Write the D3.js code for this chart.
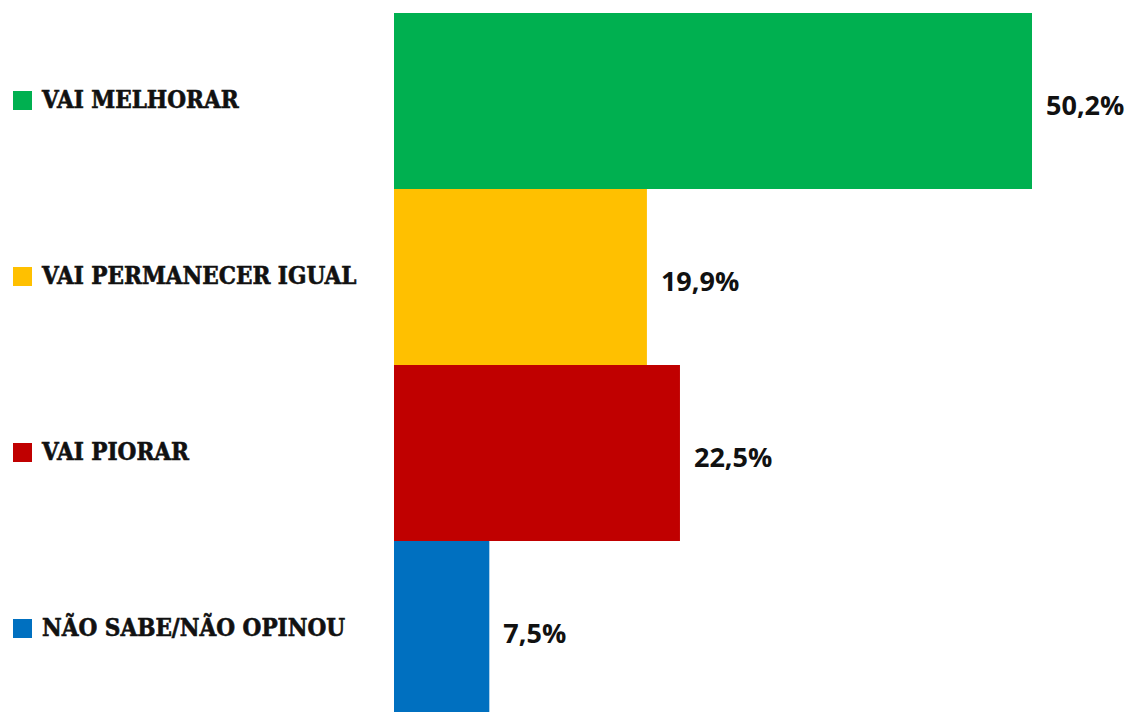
<!DOCTYPE html>
<html>
<head>
<meta charset="utf-8">
<script src="https://cdn.jsdelivr.net/npm/d3@7"></script>
<style>
  body { margin: 0; background: #fff; }
</style>
</head>
<body>
<div id="chart"></div>
<script>
var w = 1133;
var h = 712;

var categories = ["VAI MELHORAR", "VAI PERMANECER IGUAL", "VAI PIORAR", "NÃO SABE/NÃO OPINOU"];
var values = [50.2, 19.9, 22.5, 7.5];
var valueLabels = ["50,2%", "19,9%", "22,5%", "7,5%"];
var colors = ["#00b050", "#ffc000", "#c00000", "#0070c0"];

var svg = d3.select("#chart").append("svg")
  .attr("width", w)
  .attr("height", h);

// scales
var x = d3.scaleLinear().domain([0, 50.2]).range([394, 1032]);
var y = d3.scaleBand().domain(categories).range([13, 717]).padding(0);

// bars
svg.selectAll("rect.bar")
  .data(categories)
  .enter()
  .append("rect")
  .attr("class", "bar")
  .attr("x", x(0))
  .attr("y", (d) => y(d))
  .attr("width", (d, i) => x(values[i]) - x(0))
  .attr("height", y.bandwidth())
  .attr("fill", (d, i) => colors[i]);

// value labels
svg.selectAll("text.val")
  .data(categories)
  .enter()
  .append("text")
  .attr("class", "val")
  .text((d, i) => valueLabels[i])
  .attr("x", (d, i) => x(values[i]) + 14)
  .attr("y", (d) => y(d) + y.bandwidth() / 2 + 14)
  .attr("font-family", "'Open Sans', sans-serif")
  .attr("font-weight", "bold")
  .attr("font-size", 27)
  .attr("fill", "#111");

// legend squares + names
var legend = svg.selectAll("g.leg")
  .data(categories)
  .enter()
  .append("g")
  .attr("class", "leg")
  .attr("transform", (d) => "translate(0," + (y(d) + y.bandwidth() / 2) + ")");

legend.append("rect")
  .attr("x", 13)
  .attr("y", -10)
  .attr("width", 19)
  .attr("height", 19)
  .attr("fill", (d, i) => colors[i]);

legend.append("text")
  .text((d) => d)
  .attr("x", 42)
  .attr("y", 7)
  .attr("font-family", "'DejaVu Serif Condensed', 'DejaVu Serif', serif")
  .attr("font-weight", "bold")
  .attr("font-size", 24)
  .attr("stroke", "#111")
  .attr("stroke-width", 0.6)
  .attr("fill", "#111");
</script>
</body>
</html>
